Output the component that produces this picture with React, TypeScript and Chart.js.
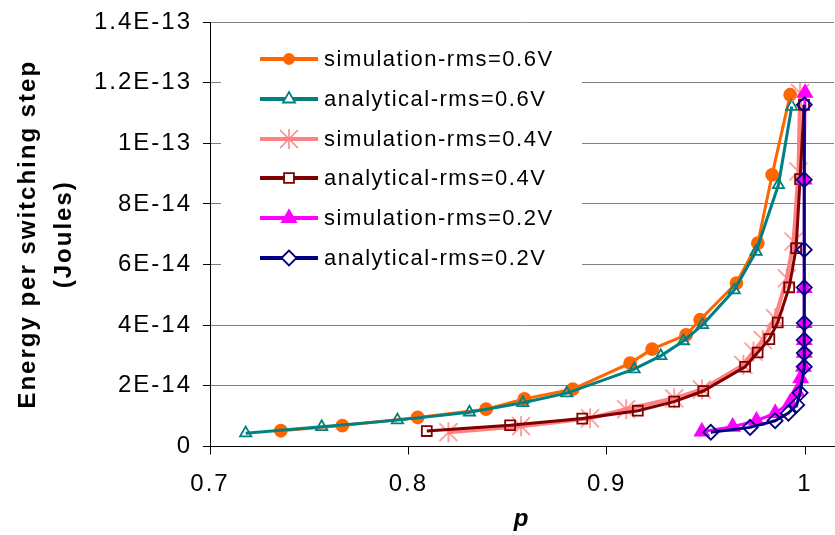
import React, { useEffect, useRef } from 'react';
import { Chart, registerables } from 'chart.js';

Chart.register(...registerables);

const FONT = '"Liberation Sans", Arial, Helvetica, sans-serif';

const xTickValues = [0.7, 0.8, 0.9, 1.0];
const xTickLabels = ['0.7', '0.8', '0.9', '1'];
const yTickValues = [0, 2e-14, 4e-14, 6e-14, 8e-14, 1e-13, 1.2e-13, 1.4e-13];
const yTickLabels = ['0', '2E-14', '4E-14', '6E-14', '8E-14', '1E-13', '1.2E-13', '1.4E-13'];

const seriesNames = [
  'simulation-rms=0.6V',
  'analytical-rms=0.6V',
  'simulation-rms=0.4V',
  'analytical-rms=0.4V',
  'simulation-rms=0.2V',
  'analytical-rms=0.2V',
];

const sim06X = [0.7357, 0.7667, 0.8047, 0.8392, 0.8585, 0.8829, 0.9118, 0.9229, 0.94, 0.9471, 0.9654, 0.9762, 0.9834, 0.9925];
const sim06Y = [0.52e-14, 0.69e-14, 0.96e-14, 1.23e-14, 1.57e-14, 1.89e-14, 2.75e-14, 3.21e-14, 3.68e-14, 4.18e-14, 5.39e-14, 6.71e-14, 8.96e-14, 11.6e-14];

const ana06X = [0.718, 0.7563, 0.7945, 0.8308, 0.8577, 0.8799, 0.9138, 0.9273, 0.9387, 0.9483, 0.9643, 0.9753, 0.9866, 0.9933];
const ana06Y = [0.44e-14, 0.65e-14, 0.87e-14, 1.13e-14, 1.44e-14, 1.76e-14, 2.55e-14, 2.99e-14, 3.48e-14, 4.01e-14, 5.16e-14, 6.43e-14, 8.63e-14, 11.21e-14];

const sim04X = [0.8202, 0.8568, 0.8916, 0.9098, 0.934, 0.948, 0.9689, 0.974, 0.9787, 0.9849, 0.9908, 0.9942, 0.9967, 0.9975];
const sim04Y = [0.47e-14, 0.67e-14, 0.93e-14, 1.23e-14, 1.59e-14, 1.88e-14, 2.69e-14, 3.13e-14, 3.51e-14, 4.23e-14, 5.55e-14, 6.76e-14, 9.07e-14, 11.66e-14];

const ana04X = [0.8093, 0.8513, 0.8877, 0.9157, 0.934, 0.9487, 0.9698, 0.9761, 0.982, 0.9862, 0.992, 0.9955, 0.9975, 0.9995];
const ana04Y = [0.51e-14, 0.7e-14, 0.92e-14, 1.18e-14, 1.48e-14, 1.83e-14, 2.63e-14, 3.1e-14, 3.54e-14, 4.09e-14, 5.25e-14, 6.54e-14, 8.82e-14, 11.27e-14];

const sim02X = [0.948, 0.9635, 0.9755, 0.985, 0.9925, 0.996, 0.9978, 0.9992, 0.9996, 0.9996, 0.9996, 0.9996, 0.9996, 1.0];
const sim02Y = [0.49e-14, 0.65e-14, 0.85e-14, 1.1e-14, 1.45e-14, 1.8e-14, 2.25e-14, 2.63e-14, 3.09e-14, 3.51e-14, 4.07e-14, 5.22e-14, 8.8e-14, 11.66e-14];

const ana02X = [0.9525, 0.9723, 0.9849, 0.9916, 0.9958, 0.9975, 0.9996, 0.9996, 0.9996, 0.9996, 0.9996, 0.9996, 0.9996, 0.9996];
const ana02Y = [0.47e-14, 0.63e-14, 0.85e-14, 1.1e-14, 1.37e-14, 1.77e-14, 2.63e-14, 3.08e-14, 3.51e-14, 4.07e-14, 5.24e-14, 6.49e-14, 8.8e-14, 11.27e-14];

const seriesX = [sim06X, ana06X, sim04X, ana04X, sim02X, ana02X];
const seriesY = [sim06Y, ana06Y, sim04Y, ana04Y, sim02Y, ana02Y];
const lineColors = ['#FF6600', '#008080', '#FF8080', '#800000', '#FF00FF', '#000080'];
const markerKinds = ['circle', 'triangle', 'asterisk', 'rect', 'triangle', 'rectRot'];
const markerFilled = [true, false, false, false, true, false];
const markerRadius = [6, 6.5, 10, 7, 8, 7.5];
const lineWidths = [3, 3, 4, 3, 3, 3];

function makeAsterisk(color: string, size: number) {
  const c = document.createElement('canvas');
  c.width = size;
  c.height = size;
  const g = c.getContext('2d')!;
  g.strokeStyle = color;
  g.lineWidth = 1.5;
  g.beginPath();
  g.moveTo(2, 2);
  g.lineTo(size - 2, size - 2);
  g.moveTo(size - 2, 2);
  g.lineTo(2, size - 2);
  g.moveTo(size / 2, 1);
  g.lineTo(size / 2, size - 1);
  g.stroke();
  return c;
}

function drawMarker(ctx: CanvasRenderingContext2D, kind: string, x: number, y: number, r: number, color: string, filled: boolean, img: HTMLCanvasElement | null) {
  if (kind === 'asterisk' && img) {
    ctx.drawImage(img, x - img.width / 2, y - img.height / 2);
    return;
  }
  ctx.beginPath();
  if (kind === 'circle') {
    ctx.arc(x, y, r, 0, Math.PI * 2);
  } else if (kind === 'triangle') {
    for (let k = 0; k < 3; k++) {
      const a = (k * 2 * Math.PI) / 3;
      const px = x + Math.sin(a) * r;
      const py = y - Math.cos(a) * r;
      if (k === 0) ctx.moveTo(px, py);
      else ctx.lineTo(px, py);
    }
    ctx.closePath();
  } else if (kind === 'rect') {
    const s = Math.SQRT1_2 * r;
    ctx.rect(x - s, y - s, 2 * s, 2 * s);
  } else if (kind === 'rectRot') {
    ctx.moveTo(x - r, y);
    ctx.lineTo(x, y - r);
    ctx.lineTo(x + r, y);
    ctx.lineTo(x, y + r);
    ctx.closePath();
  }
  ctx.fillStyle = filled ? color : '#ffffff';
  ctx.fill();
  ctx.lineWidth = 1.8;
  ctx.strokeStyle = color;
  ctx.stroke();
}

export default function App() {
  const ref = useRef<HTMLCanvasElement>(null);

  useEffect(() => {
    const canvas = ref.current;
    if (!canvas) return;
    const asterisk = makeAsterisk(lineColors[2], 22);

    const datasets = seriesNames.map((name, i) => ({
      label: name,
      data: seriesX[i].map((x, j) => ({ x, y: seriesY[i][j] })),
      borderColor: lineColors[i],
      backgroundColor: markerFilled[i] ? lineColors[i] : 'rgba(0,0,0,0)',
      pointBackgroundColor: markerFilled[i] ? lineColors[i] : 'rgba(0,0,0,0)',
      pointBorderColor: lineColors[i],
      pointBorderWidth: 1.8,
      pointStyle: markerKinds[i] === 'asterisk' ? (asterisk as any) : markerKinds[i],
      pointRadius: markerRadius[i],
      borderWidth: lineWidths[i],
      showLine: true,
      tension: 0,
      fill: false,
      clip: false,
      order: 5 - i,
    }));

    const legendPlugin = {
      id: 'customLegend',
      afterDraw(chart: any) {
        const ctx: CanvasRenderingContext2D = chart.ctx;
        ctx.save();
        ctx.fillStyle = '#ffffff';
        ctx.fillRect(221, 23, 361, 268);
        const rows = [59, 99, 139, 178, 218, 258];
        seriesNames.forEach((name, i) => {
          const y = rows[i];
          ctx.beginPath();
          ctx.strokeStyle = lineColors[i];
          ctx.lineWidth = 4;
          ctx.moveTo(260, y);
          ctx.lineTo(318, y);
          ctx.stroke();
          const legendR = [5, 7, 9, 7, 8, 7.5][i];
          drawMarker(ctx, markerKinds[i], 289, y, legendR, lineColors[i], markerFilled[i], markerKinds[i] === 'asterisk' ? asterisk : null);
          (ctx as any).letterSpacing = '1.5px';
          ctx.font = `22px ${FONT}`;
          ctx.fillStyle = '#000000';
          ctx.textAlign = 'left';
          ctx.textBaseline = 'middle';
          ctx.fillText(name, 324, y + 1);
        });
        ctx.restore();
      },
    };

    const spacingPlugin = {
      id: 'spacing',
      beforeDraw(chart: any) {
        (chart.ctx as any).letterSpacing = '2px';
      },
    };

    const chart = new Chart(canvas, {
      type: 'line',
      data: { datasets },
      options: {
        animation: false,
        responsive: false,
        devicePixelRatio: 1,
        layout: { autoPadding: false, padding: { left: 0, right: 1, top: 22, bottom: 0 } },
        plugins: {
          legend: { display: false },
          tooltip: { enabled: false },
        },
        scales: {
          x: {
            type: 'linear',
            min: 0.7,
            max: 1.0146,
            afterBuildTicks: (s: any) => {
              s.ticks = xTickValues.map((v) => ({ value: v }));
            },
            afterFit: (s: any) => {
              s.height = 88.5;
              s.paddingLeft = 0;
              s.paddingRight = 0;
            },
            ticks: {
              callback: (_v: any, i: number) => xTickLabels[i],
              font: { family: FONT, size: 24 },
              color: '#000',
              padding: 15,
              maxRotation: 0,
              autoSkip: false,
            },
            grid: { drawOnChartArea: false, drawTicks: true, tickLength: 8, tickColor: '#000', color: '#000' },
            border: { display: true, color: '#000', width: 1 },
            title: {
              display: true,
              text: 'p',
              color: '#000',
              font: { family: FONT, size: 24, weight: 'bold', style: 'italic' },
              padding: { top: 0, bottom: 1 },
            },
          },
          y: {
            type: 'linear',
            min: 0,
            max: 1.4e-13,
            afterBuildTicks: (s: any) => {
              s.ticks = yTickValues.map((v) => ({ value: v }));
            },
            afterFit: (s: any) => {
              s.width = 210;
              s.paddingTop = 0;
              s.paddingBottom = 0;
            },
            ticks: {
              callback: (_v: any, i: number) => yTickLabels[i],
              font: { family: FONT, size: 24 },
              color: '#000',
              padding: 11,
              autoSkip: false,
            },
            grid: { color: '#808080', lineWidth: 1, drawTicks: true, tickLength: 7, tickColor: '#000' },
            border: { display: true, color: '#000', width: 1 },
            title: {
              display: true,
              text: ['Energy per switching step', '(Joules)'],
              color: '#000',
              font: { family: FONT, size: 24, weight: 'bold', lineHeight: 1.5 },
              padding: { top: 10, bottom: 0 },
            },
          },
        },
      } as any,
      plugins: [spacingPlugin, legendPlugin],
    });

    return () => chart.destroy();
  }, []);

  return (
    <div style={{ position: 'absolute', left: 0, top: 0, width: 835, height: 535, background: '#fff' }}>
      <canvas ref={ref} width={835} height={535} style={{ display: 'block' }} />
    </div>
  );
}
